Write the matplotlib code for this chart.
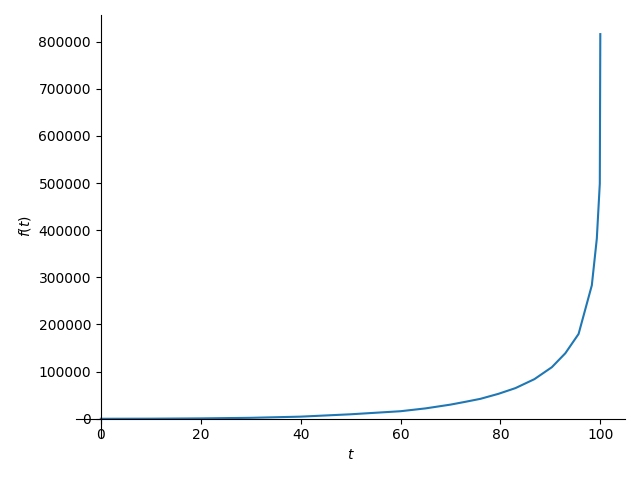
import matplotlib
matplotlib.use("Agg")
import matplotlib.pyplot as plt

t_vals = [0, 10, 20, 30, 40, 50, 60, 65, 70, 73, 76, 79.6, 83, 86.8, 90.3, 93, 95.65, 98.3, 99.3, 99.9, 100]
f_vals = [0, 200, 800, 2000, 4500, 9500, 16000, 22000, 30000, 36000, 42300, 52900, 65000,
          84000, 109400, 139000, 179900, 283000, 382000, 499000, 816000]

fig = plt.figure(figsize=(6.4, 4.8), dpi=100)
ax = fig.add_axes([0.1185, 0.0875, 0.8585, 0.8815])
ax.plot(t_vals, f_vals, color="C0", linewidth=1.5)
ax.spines["left"].set_position("zero")
ax.spines["bottom"].set_position("zero")
ax.spines["right"].set_visible(False)
ax.spines["top"].set_visible(False)
ax.xaxis.set_ticks_position("bottom")
ax.yaxis.set_ticks_position("left")
ax.set_xticks([0, 20, 40, 60, 80, 100])
ax.set_yticks([0, 100000, 200000, 300000, 400000, 500000, 600000, 700000, 800000])
ax.set_xlabel(r"$t$")
ax.set_ylabel(r"$f{\left(t \right)}$")
fig.savefig("out.png", dpi=100)
